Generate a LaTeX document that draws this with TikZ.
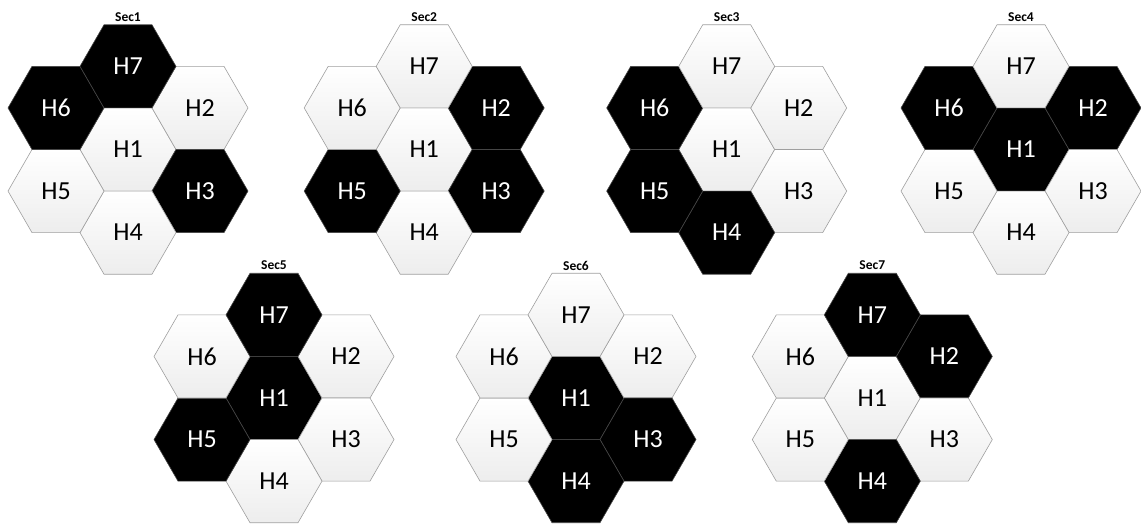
\documentclass[tikz,border=0pt]{standalone}
\usepackage{fontspec}
\setmainfont{Carlito}
\usetikzlibrary{shapes.geometric}
\tikzset{
  hexa/.style={regular polygon, regular polygon sides=6, minimum size=96pt,
    inner sep=0pt, outer sep=0pt, line width=0.6pt,
    font=\fontsize{26}{30}\selectfont},
  lite/.style={hexa, draw=gray!75, top color=white, bottom color=gray!14, text=black},
  dark/.style={hexa, draw=gray!55!black, fill=black, text=white},
  seclab/.style={inner sep=0pt, font=\bfseries\fontsize{13.5}{15}\selectfont}
}
\newcommand\hexsec[4]{%
  \begin{scope}[shift={(#2,#3)},
    h1/.style={lite}, h2/.style={lite}, h3/.style={lite}, h4/.style={lite},
    h5/.style={lite}, h6/.style={lite}, h7/.style={lite}, #4]
    \node[h1] (#1-h1) at (0,0) {H1};
    \node[h2] (#1-h2) at (72,-41.57) {H2};
    \node[h3] (#1-h3) at (72,41.57) {H3};
    \node[h4] (#1-h4) at (0,83.14) {H4};
    \node[h5] (#1-h5) at (-72,41.57) {H5};
    \node[h6] (#1-h6) at (-72,-41.57) {H6};
    \node[h7] (#1-h7) at (0,-83.14) {H7};
    \node[seclab] (#1-lab) at (0,-132.5) {#1};
  \end{scope}}
\begin{document}
\begin{tikzpicture}[x=1pt,y=-1pt]
\useasboundingbox (0,0) rectangle (1141,523);
\hexsec{Sec1}{128}{149.5}{h7/.style={dark}, h6/.style={dark}, h3/.style={dark}}
\hexsec{Sec2}{424.2}{149.5}{h2/.style={dark}, h5/.style={dark}, h3/.style={dark}}
\hexsec{Sec3}{726.7}{149.5}{h6/.style={dark}, h5/.style={dark}, h4/.style={dark}}
\hexsec{Sec4}{1021}{149.5}{h6/.style={dark}, h1/.style={dark}, h2/.style={dark}}
\hexsec{Sec5}{274}{398}{h7/.style={dark}, h1/.style={dark}, h5/.style={dark}}
\hexsec{Sec6}{576}{398}{h1/.style={dark}, h3/.style={dark}, h4/.style={dark}}
\hexsec{Sec7}{872.3}{398}{h7/.style={dark}, h2/.style={dark}, h4/.style={dark}}
\end{tikzpicture}
\end{document}
